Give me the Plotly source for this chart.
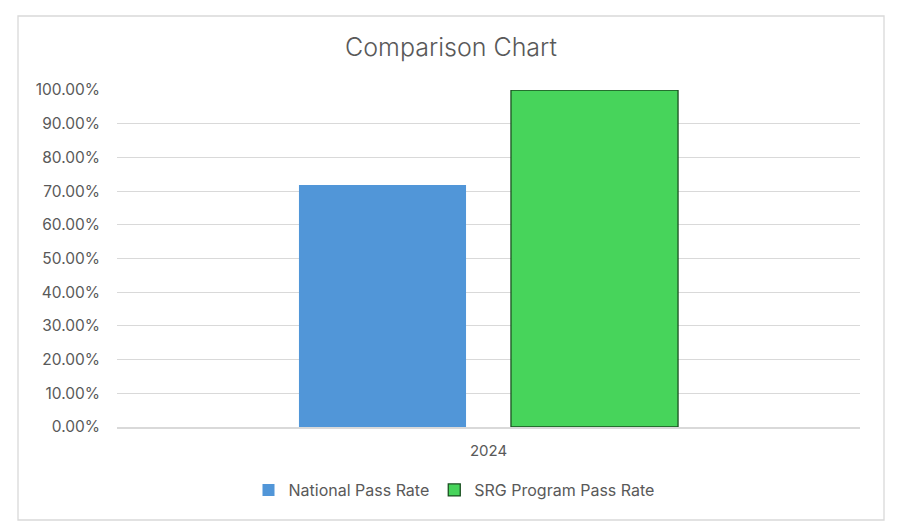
import plotly.graph_objects as go

categories = ["2024"]
national_pass_rate = [0.718]
srg_pass_rate = [1.0]
series_names = ["National Pass Rate", "SRG Program Pass Rate"]
title_text = "Comparison Chart"

# page has an 8px body margin; work in figure coordinates = reference - 8
OFF = 8
W, H = 896, 523
L, R, T, B = 117 - OFF, 44, 90 - OFF, 104
pw, ph = W - L - R, H - T - B

def px(x):
    return (x - OFF - L) / pw

def py(y):
    return (H - B - (y - OFF)) / ph

font = "Inter, Open Sans, sans-serif"
txt = "#595959"

fig = go.Figure()
fig.add_trace(go.Bar(x=categories, y=national_pass_rate, name=series_names[0],
                     marker=dict(color="#5196D8", line=dict(width=0))))
fig.add_trace(go.Bar(x=categories, y=srg_pass_rate, name=series_names[1],
                     marker=dict(color="#47D45B", line=dict(color="#1A4F20", width=1.3))))

fig.update_layout(
    width=W, height=H,
    margin=dict(l=L, r=R, t=T, b=B),
    paper_bgcolor="white", plot_bgcolor="white",
    barmode="group", bargap=0.4293, bargroupgap=0.212,
    font=dict(family=font, color=txt, size=13),
    title=dict(text=title_text, x=px(451), xref="paper", xanchor="center",
               y=1 - (47 - OFF) / H, yref="container", yanchor="middle",
               font=dict(size=25, color=txt, family=font, weight=300)),
    showlegend=True,
    legend=dict(orientation="h", x=px(454), xanchor="center", y=py(490), yanchor="middle",
                font=dict(size=16, color=txt, family=font), itemwidth=30,
                traceorder="normal", bgcolor="rgba(0,0,0,0)"),
    xaxis=dict(showgrid=False, showline=True, linecolor="#D9D9D9", linewidth=1.5,
               ticks="", ticklabelstandoff=9, tickfont=dict(size=15, color=txt), fixedrange=True),
    yaxis=dict(range=[0, 1], dtick=0.1, tick0=0, tickformat=".2%",
               gridcolor="#D9D9D9", gridwidth=1.3, zeroline=False, showline=False,
               ticks="", ticklabelstandoff=16, tickfont=dict(size=15.5, color=txt)),
    shapes=[dict(type="rect", xref="paper", yref="paper",
                 x0=px(18), x1=px(884), y0=py(520), y1=py(16),
                 line=dict(color="#D9D9D9", width=1.3), fillcolor="rgba(0,0,0,0)", layer="below")],
)

fig.write_html("out.html")
